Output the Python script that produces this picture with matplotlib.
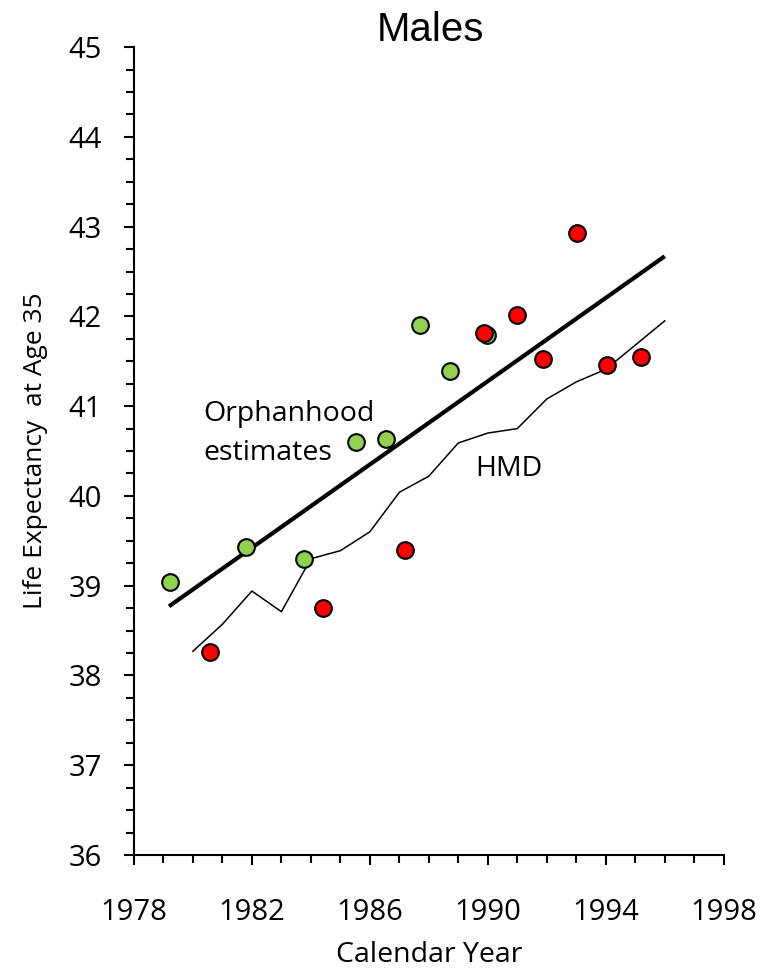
import matplotlib
matplotlib.use("Agg")
import matplotlib.pyplot as plt
from matplotlib.ticker import MultipleLocator, FixedLocator

# HMD life expectancy at age 35, annual series
hmd_years = list(range(1980, 1997))
hmd_values = [38.27, 38.57, 38.94, 38.71, 39.30, 39.39, 39.60, 40.04, 40.22,
              40.59, 40.70, 40.75, 41.08, 41.27, 41.41, 41.68, 41.95]

# Orphanhood estimates (two survey sets)
green_years = [1979.22, 1981.80, 1983.76, 1985.53, 1986.54, 1987.69, 1988.71, 1989.97]
green_values = [39.04, 39.43, 39.30, 40.60, 40.63, 41.90, 41.39, 41.79]

red_years = [1980.58, 1984.41, 1987.19, 1989.86, 1990.98, 1991.86, 1993.02, 1994.03, 1995.19]
red_values = [38.26, 38.75, 39.40, 41.81, 42.01, 41.52, 42.93, 41.46, 41.55]

# Linear trend through the orphanhood estimates
trend_years = [1979.19, 1996.0]
trend_values = [38.77, 42.67]

x_ticks = [1978, 1982, 1986, 1990, 1994, 1998]
y_ticks = [36, 37, 38, 39, 40, 41, 42, 43, 44, 45]

body_font = ["Open Sans", "DejaVu Sans"]

fig = plt.figure(figsize=(7.61, 9.71), dpi=100)
ax = fig.add_axes([0.176, 0.1195, 0.775, 0.832])

ax.plot(trend_years, trend_values, color="black", lw=3.0, solid_capstyle="butt", zorder=2)
ax.plot(hmd_years, hmd_values, color="black", lw=1.1, zorder=2)

ax.plot(green_years, green_values, "o", ms=12, mfc="#92D050", mec="black", mew=1.5, zorder=3)
ax.plot(red_years, red_values, "o", ms=12, mfc="#FF0000", mec="black", mew=1.5, zorder=4)

ax.text(1980.34, 40.83, "Orphanhood", fontsize=20.5, family=body_font, ha="left", va="baseline")
ax.text(1980.34, 40.40, "estimates", fontsize=20.5, family=body_font, ha="left", va="baseline")
ax.text(1989.56, 40.22, "HMD", fontsize=20.5, family=body_font, ha="left", va="baseline")

ax.set_xlim(1978, 1998)
ax.set_ylim(36, 45)
ax.xaxis.set_major_locator(FixedLocator(x_ticks))
ax.xaxis.set_minor_locator(MultipleLocator(1))
ax.yaxis.set_major_locator(FixedLocator(y_ticks))
ax.yaxis.set_minor_locator(MultipleLocator(0.25))

for s in ["top", "right"]:
    ax.spines[s].set_visible(False)
for s in ["left", "bottom"]:
    ax.spines[s].set_linewidth(1.5)

ax.tick_params(which="major", direction="out", length=7, width=1.5)
ax.tick_params(which="minor", direction="out", length=6, width=1.5)
ax.tick_params(axis="y", which="major", pad=16)
ax.tick_params(axis="x", which="major", pad=24)
for lab in ax.get_xticklabels() + ax.get_yticklabels():
    lab.set_fontfamily(body_font)
    lab.set_fontsize(21)

ax.set_xlabel("Calendar Year", fontsize=20.5, family=body_font, labelpad=10)
ax.set_ylabel("Life Expectancy  at Age 35", fontsize=19, family=body_font, labelpad=15)

fig.text(431 / 761, 1 - 41 / 971, "Males", fontsize=29,
         family=["Liberation Sans", "DejaVu Sans"], ha="center", va="baseline")

fig.savefig("out.png", dpi=100)
